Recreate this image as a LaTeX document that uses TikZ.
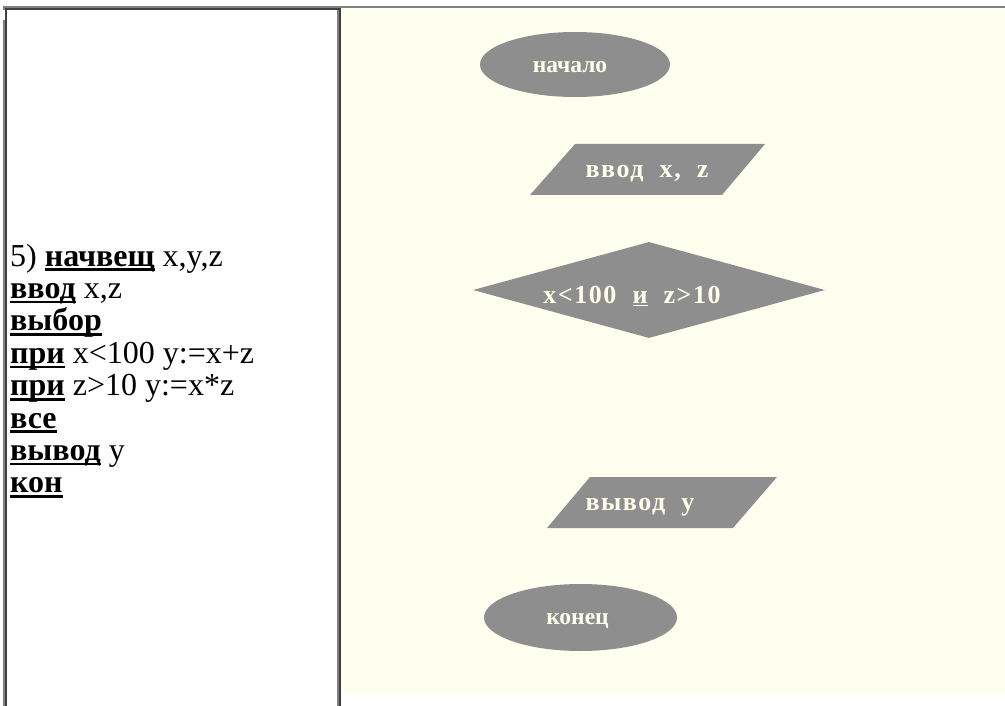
\documentclass[tikz,border=0pt]{standalone}
\usepackage{fontspec}
\setmainfont{Liberation Serif}
\newfontfamily\shapefont[LetterSpace=6]{Liberation Serif}
\usetikzlibrary{shapes.geometric}
\definecolor{ivorybg}{RGB}{255,255,240}
\definecolor{shapegray}{RGB}{142,142,142}
\definecolor{bordergray}{RGB}{128,128,128}
\definecolor{borderdark}{RGB}{64,64,64}
\definecolor{shapetext}{RGB}{255,255,236}
\newcommand\kw[1]{\setbox0\hbox{\bfseries #1}\rlap{\rule[-5pt]{\wd0}{2.6pt}}\box0\relax}
\begin{document}
\begin{tikzpicture}[x=1pt,y=-1pt,
  codeline/.style={anchor=base west,inner sep=0pt,font=\fontsize{32}{36}\selectfont},
  termbox/.style={ellipse,fill=shapegray,inner sep=0pt},
  shapelabel/.style={text=shapetext,inner sep=0pt,font=\bfseries\fontsize{23.5}{27}\selectfont},
  biglabel/.style={shapelabel,font=\shapefont\bfseries\fontsize{26}{30}\selectfont}]
\useasboundingbox (0,0) rectangle (1005,706);
\fill[white] (0,0) rectangle (1005,706);
% right cell background
\fill[ivorybg] (341,8) rectangle (1005,695);
% table borders
\fill[bordergray] (3,6) rectangle (1005,8);
\fill[bordergray] (3,6) rectangle (5,706);
\fill[white] (3.3,10) rectangle (5,20);
\fill[borderdark] (5,8) rectangle (339,10);
\fill[borderdark] (5,8) rectangle (7,706);
\fill[bordergray] (337,10) rectangle (339,706);
\fill[borderdark] (339,8) rectangle (341,706);
% program text
\node[codeline] (l1) at (10,266) {5) \kw{начвещ} x,y,z};
\node[codeline] (l2) at (10,298.4) {\kw{ввод} x,z};
\node[codeline] (l3) at (10,330.8) {\kw{выбор}};
\node[codeline] (l4) at (10,363.2) {\kw{при} x<100 y:=x+z};
\node[codeline] (l5) at (10,395.6) {\kw{при} z>10 y:=x*z};
\node[codeline] (l6) at (10,428) {\kw{все}};
\node[codeline] (l7) at (10,460.4) {\kw{вывод} y};
\node[codeline] (l8) at (10,492.8) {\kw{кон}};
% flowchart shapes
\node[termbox,minimum width=190pt,minimum height=65pt] (start) at (575,64.5) {};
\node[shapelabel] (startt) at (570,67) {начало};
\fill[shapegray] (530,195) -- (575,144) -- (765,144) -- (722,195) -- cycle;
\coordinate (inp) at (647,169.5);
\node[biglabel] (inpt) at (647,174) {ввод\ \ x,\ \ z};
\node[diamond,fill=shapegray,minimum width=352pt,minimum height=96pt,inner sep=0pt] (cond) at (649,290) {};
\node[biglabel] (condt) at (632,296) {x<100\ \ \underline{и}\ \ z>10};
\fill[shapegray] (547,528) -- (590,477) -- (777,477) -- (733,528) -- cycle;
\coordinate (outp) at (662,502.5);
\node[biglabel] (outpt) at (640,507) {вывод\ \ y};
\node[termbox,minimum width=193pt,minimum height=67pt] (stop) at (580.5,617.5) {};
\node[shapelabel] (stopt) at (577.5,621) {конец};
\end{tikzpicture}
\end{document}
